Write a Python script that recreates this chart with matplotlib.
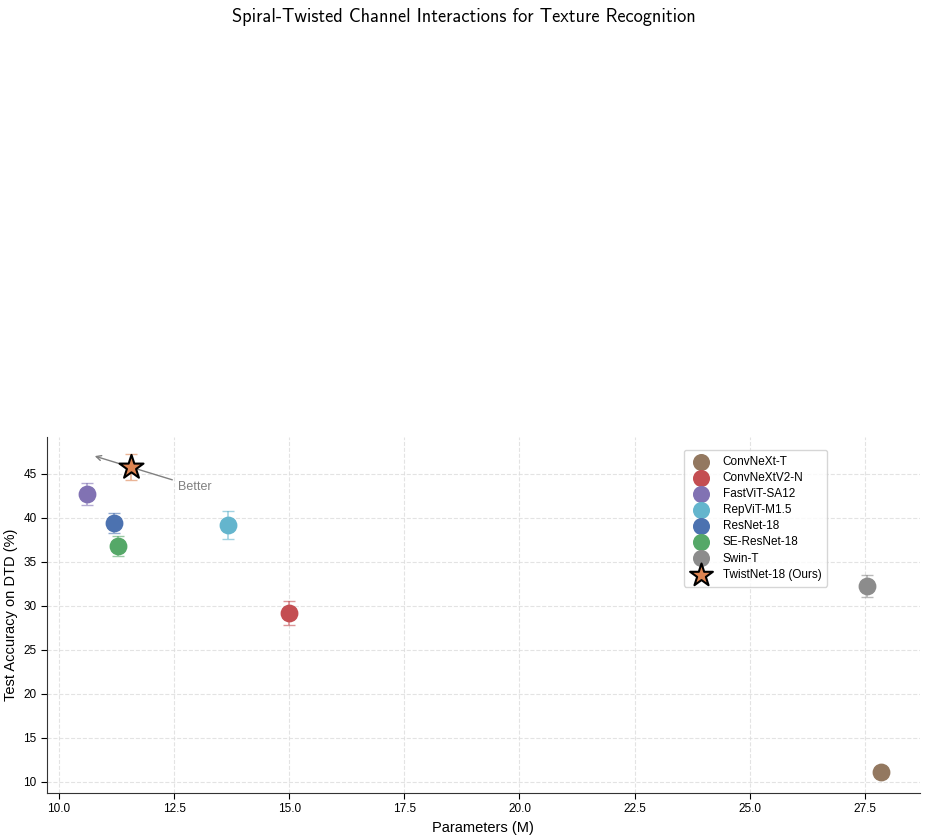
"""
Params vs DTD accuracy scatter
"""
import matplotlib.pyplot as plt

plt.rcParams['font.family'] = ['Liberation Sans', 'DejaVu Sans']

# data
models = ['ConvNeXt-T', 'ConvNeXtV2-N', 'FastViT-SA12', 'RepViT-M1.5',
          'ResNet-18', 'SE-ResNet-18', 'Swin-T', 'TwistNet-18 (Ours)']
params = [27.85, 15.0, 10.6, 13.67, 11.2, 11.28, 27.55, 11.56]
acc = [11.1, 29.2, 42.7, 39.2, 39.4, 36.8, 32.3, 45.8]
acc_std = [0.3, 1.35, 1.3, 1.6, 1.1, 1.1, 1.25, 1.5]
colors = ['#937860', '#C44E52', '#8172B3', '#64B5CD',
          '#4C72B0', '#55A868', '#8C8C8C', '#DD8452']

fig = plt.figure(figsize=(9.28, 8.4), dpi=100)
ax = fig.add_axes([0.0506, 0.056, 0.9404, 0.424])

for name, x, y, e, c in zip(models, params, acc, acc_std, colors):
    ax.errorbar(x, y, yerr=e, fmt='none', ecolor=c, alpha=0.6,
                capsize=4, elinewidth=1.2, zorder=2)
    if 'Ours' in name:
        ax.scatter(x, y, s=330, marker='*', color=c, edgecolor='black',
                   linewidth=1.5, label=name, zorder=4)
    else:
        ax.scatter(x, y, s=140, marker='o', color=c, label=name, zorder=3)

# "Better" arrow
ax.annotate('Better', xy=(10.72, 47.1), xytext=(12.58, 43.2),
            fontsize=9, color='gray',
            arrowprops=dict(arrowstyle='->', color='gray', lw=1.0))

ax.set_xlim(9.74, 28.69)
ax.set_ylim(8.75, 49.2)
ax.set_xticks([10.0, 12.5, 15.0, 17.5, 20.0, 22.5, 25.0, 27.5])
ax.set_xlabel('Parameters (M)', fontsize=10.5)
ax.set_ylabel('Test Accuracy on DTD (%)', fontsize=10.5)
ax.tick_params(labelsize=8.5, direction='out', length=4, width=0.8)
ax.grid(True, linestyle='--', color='#dddddd', linewidth=0.8, alpha=0.8)
ax.set_axisbelow(True)
ax.spines['top'].set_visible(False)
ax.spines['right'].set_visible(False)
for s in ['left', 'bottom']:
    ax.spines[s].set_color('#333333')

ax.legend(loc='upper right', bbox_to_anchor=(0.901, 0.98), fontsize=8.5,
          frameon=True, labelspacing=0.35, handletextpad=0.8,
          borderpad=0.5, markerscale=0.95)

fig.suptitle('Spiral-Twisted Channel Interactions for Texture Recognition',
             fontsize=13.2, y=0.99, family=['cmss10', 'DejaVu Sans'])

plt.savefig('out.png', dpi=100)
